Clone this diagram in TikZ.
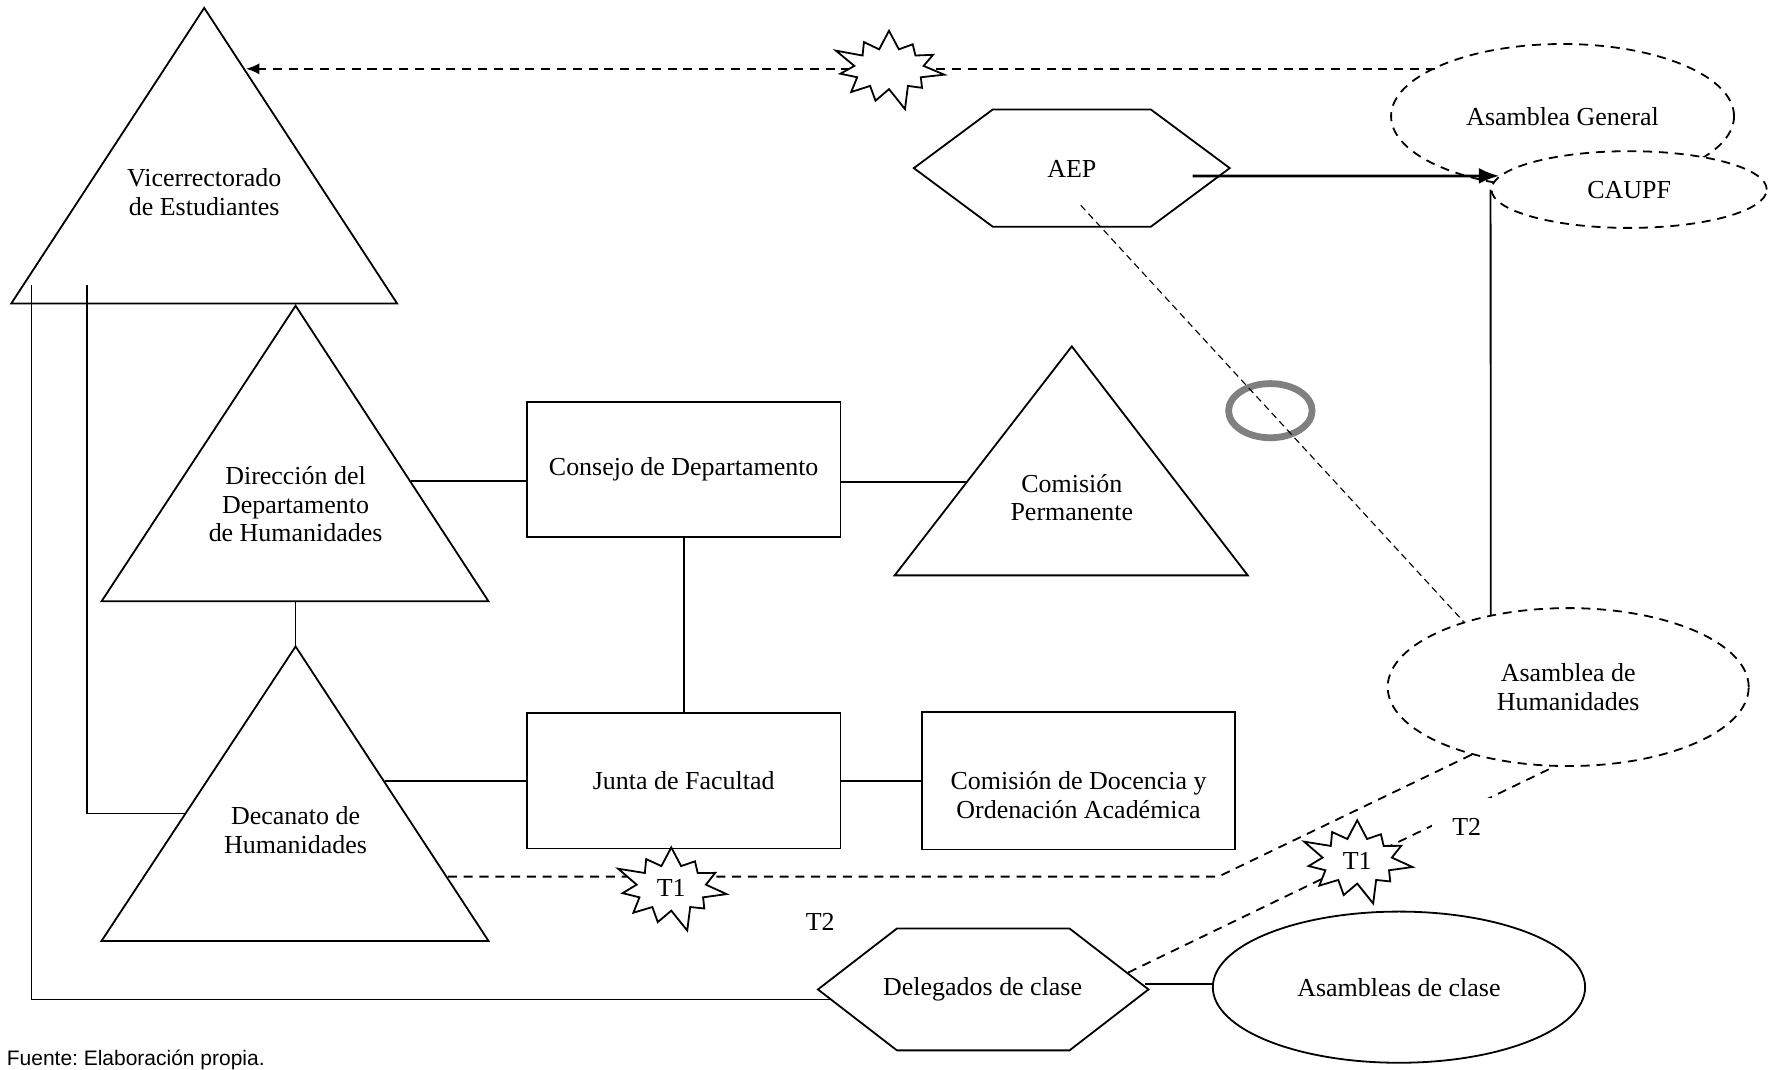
\documentclass[tikz,border=0pt]{standalone}
\usepackage{fontspec}
\setmainfont{Liberation Serif}
\newfontfamily\fuentefont{Liberation Sans}
\usetikzlibrary{shapes.geometric,shapes.symbols,arrows.meta}
\frenchspacing
\tikzset{
lbl/.style={
		align=center,
		font=\fontsize{11.5}{12.7}\selectfont
	},
linea/.style={
		line width=0.8pt
	},
trazos/.style={
		line width=0.8pt,
		dash pattern=on 4pt off 3pt
	},
caja/.style={
		draw,
		lbl,
		linea,
		minimum width=139pt,
		minimum height=60pt
	},
asamblea/.style={
		draw,
		ellipse,
		lbl,
		trazos,
		fill=white
	},
estallido/.style={
		draw,
		starburst,
		lbl,
		linea,
		fill=white,
		starburst points=11,
		starburst point height=11pt,
		minimum width=53pt,
		minimum height=40pt
	}
}
\begin{document}
\begin{tikzpicture}[x=0.5pt,y=-0.5pt]
			\useasboundingbox (0,0) rectangle (1568,948);
			\draw[linea] (181,7) -- (352,269) -- (10,269) -- cycle;
			\node[lbl] (vic) at (181,170) {Vicerrectorado\\de Estudiantes};
			\draw[linea] (262,271) -- (433,533) -- (90,533) -- cycle;
			\node[lbl] (dir) at (262,447) {Dirección del\\Departamento\\de Humanidades};
			\draw[linea] (262,573) -- (433,834) -- (90,834) -- cycle;
			\node[lbl] (dec) at (262,736) {Decanato de\\Humanidades};
			\draw[linea] (950,307) -- (1106,510) -- (793,510) -- cycle;
			\node[lbl] (cp) at (950,441) {Comisión\\Permanente};
			\draw[linea] (810,149) -- (880,97) -- (1020,97) -- (1090,149) -- (1020,201) -- (880,201) -- cycle;
			\node[lbl] (aep) at (950,150) {AEP};
			\node[caja] (cons) at (606,416) {Consejo de Departamento};
			\node[caja] (junta) at (606,692) {Junta de Facultad};
			\node[caja, minimum height=61pt] (cdoa) at (956,692) {};
			\node[lbl] (cdoa-t) at (956,705) {Comisión de Docencia y\\Ordenación Académica};
			\node[asamblea, minimum width=152pt, minimum height=64pt] (ag) at (1385,103) {Asamblea General};
			\node[asamblea, minimum width=122pt, minimum height=34pt] (caupf) at (1444,168) {CAUPF};
			\node[asamblea, minimum width=160pt, minimum height=70pt] (ah) at (1390,609) {Asamblea de\\Humanidades};
			\node[draw, ellipse, lbl, linea, minimum width=165pt, minimum height=67pt] (acl) at (1240,875) {Asambleas de clase};
			\node[draw=gray, ellipse, line width=3pt, minimum width=37pt, minimum height=24pt] (aro) at (1126,364) {};
			\coordinate (vic-r) at (218,61);
			\coordinate (dir-r) at (364,426);
			\coordinate (cp-l) at (856,427);
			\coordinate (dec-r) at (341,692);
			\coordinate (dec-t) at (397,777);
			\coordinate (dec-l) at (164,721);
			\coordinate (aep-a) at (1057,156);
			\coordinate (aep-d) at (958,182);
			\coordinate (del-l) at (736,886);
			\coordinate (del-r) at (1015,872);
			\coordinate (del-t) at (1000,862);
			\draw[trazos, -{Latex[length=6pt,width=5pt]}] (ag.159 |- vic-r) -- (vic-r);
			\node[estallido] (e0) at (788,61) {};
			\draw[linea] (caupf.west) -- (ah.137);
			\draw[line width=1.2pt, -{Latex[length=9pt,width=7pt]}] (aep-a) -- (caupf.174);
			\draw[line width=0.5pt, dash pattern=on 3pt off 2pt] (aep-d) -- (ah.148);
			\draw[linea] (dir-r) -- (dir-r -| cons.west);
			\draw[linea] (cons.east |- cp-l) -- (cp-l);
			\draw[linea] (cons.south) -- (junta.north);
			\draw[linea] (dec-r) -- (junta.west);
			\draw[linea] (junta.east) -- (cdoa.west);
			\draw[linea] (262,533) -- (262,573);
			\draw[linea] (28,253) |- (del-l);
			\draw[linea] (77,253) |- (dec-l);
			\draw[trazos] (dec-t) -- (1080,777) -- (ah.215);
			\node[estallido] (t1a) at (595,787) {T1};
			\node[lbl] (t2a) at (727,817) {T2};
			\draw[trazos] (del-t) -- (ah.260);
			\node[estallido] (t1b) at (1203,763) {T1};
			\node[lbl, fill=white, inner sep=9pt] (t2b) at (1300,733) {T2};
			\draw[linea, fill=white] (725,877) -- (795,823) -- (948,823) -- (1018,877) -- (948,931) -- (795,931) -- cycle;
			\node[lbl] (del) at (871,877) {Delegados de clase};
			\draw[linea] (del-r) -- (del-r -| acl.west);
			\node[anchor=base west, font=\fuentefont\fontsize{9.3}{11}\selectfont] (fuente) at (-1,944) {Fuente: Elaboración propia.};
			\end{tikzpicture}
\end{document}
